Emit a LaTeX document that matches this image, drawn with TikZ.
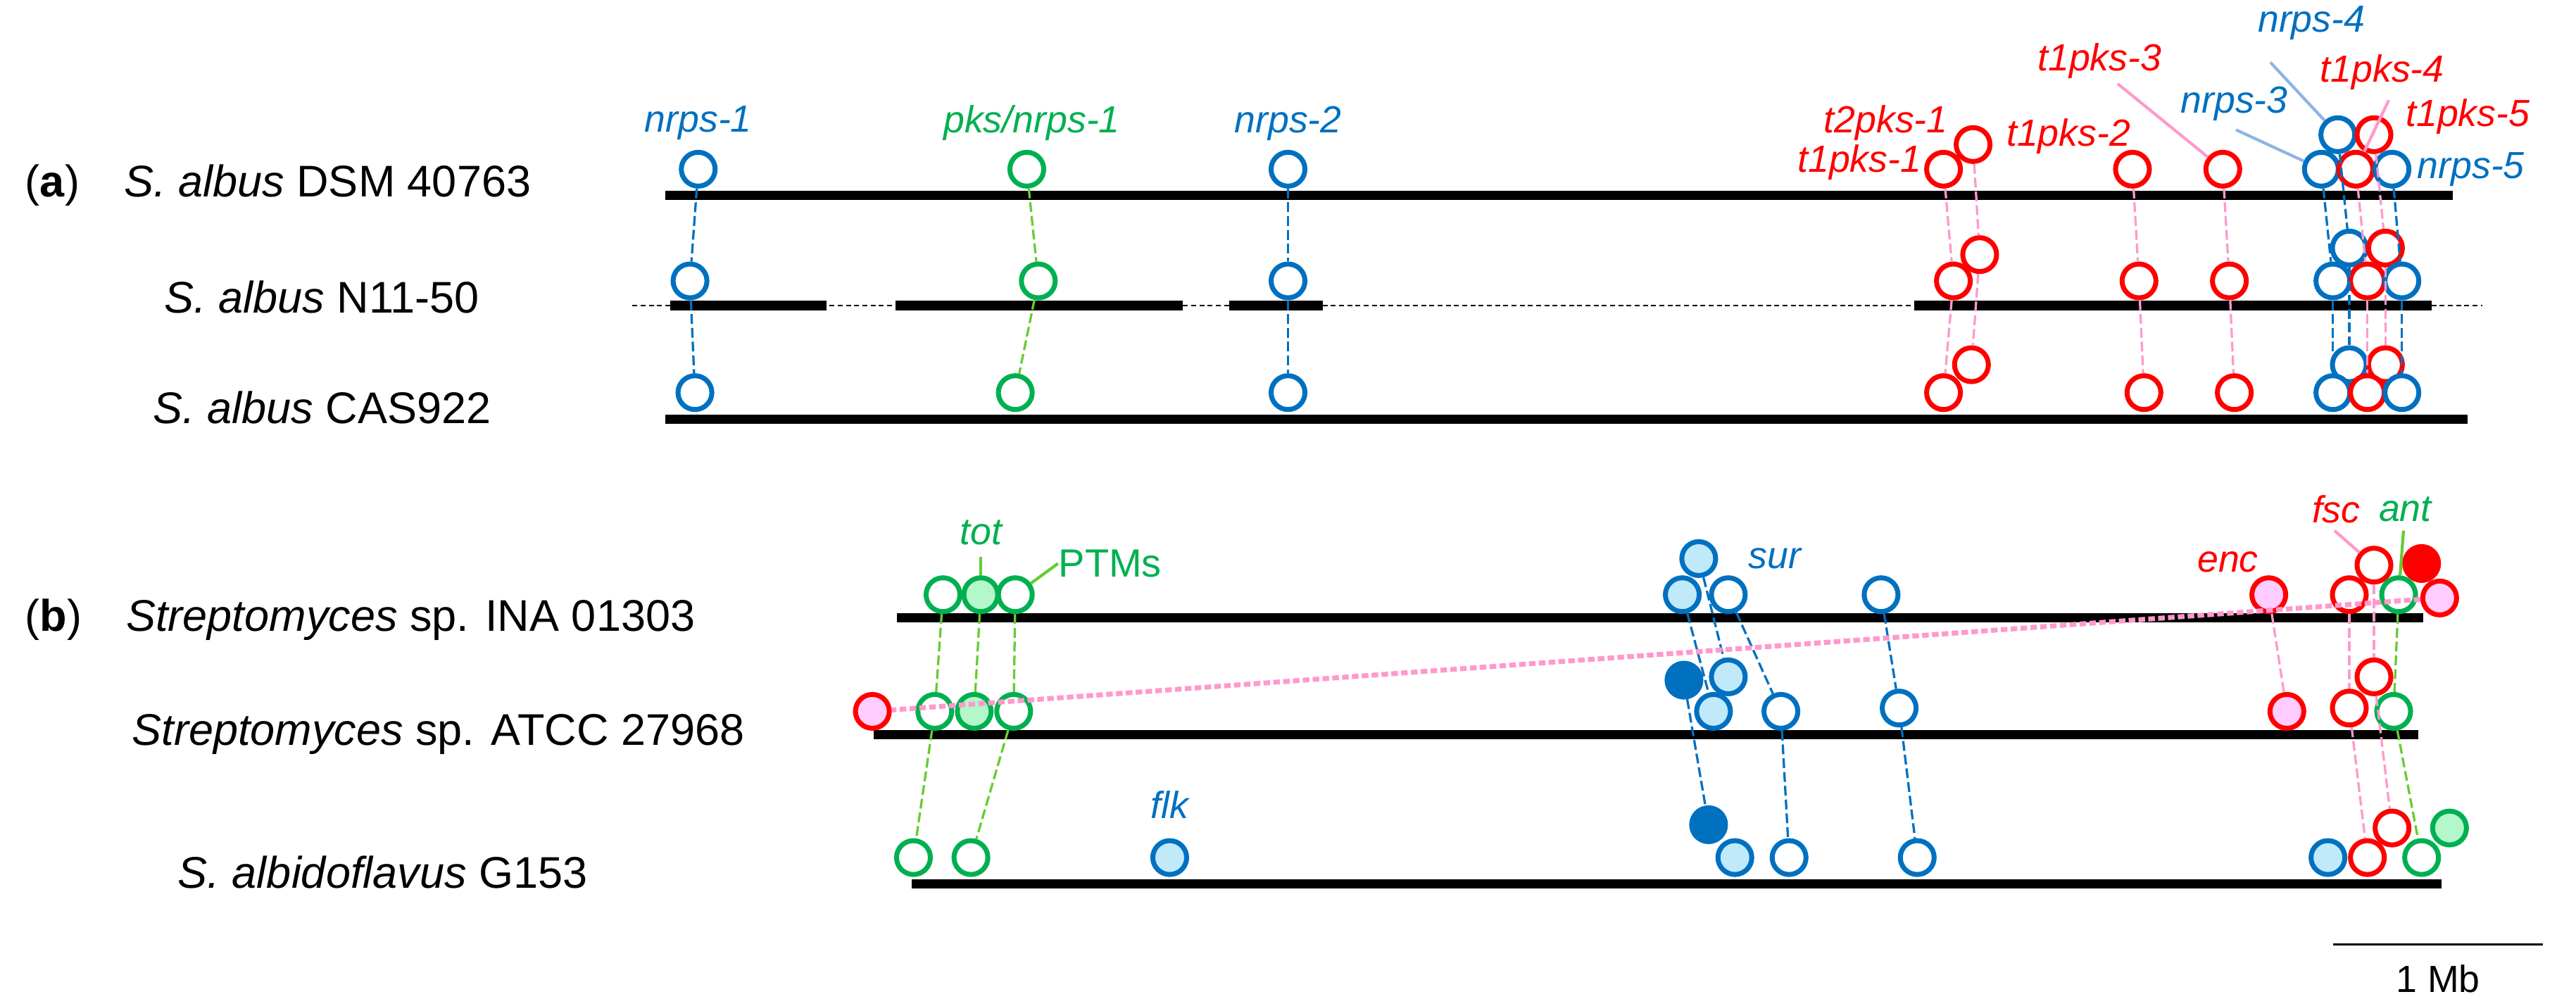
\documentclass[tikz,border=0pt]{standalone}
\usepackage{fontspec}
\setmainfont{Liberation Sans}
\begin{document}
\definecolor{cb}{HTML}{0070C0}
\definecolor{cr}{HTML}{FF0000}
\definecolor{cg}{HTML}{00B050}
\definecolor{lblue}{HTML}{C0E9FA}
\definecolor{lgreen}{HTML}{B3F7CA}
\definecolor{lpink}{HTML}{FFCCFF}
\definecolor{pline}{HTML}{FF99CC}
\definecolor{gline}{HTML}{66CC33}
\definecolor{bline}{HTML}{8EB4E3}
\begin{tikzpicture}[x=0.5pt,y=-0.5pt,
  g/.style={circle,inner sep=0,minimum size=10.3pt,line width=1.5pt,draw=#1,fill=white},
  B/.style={g=cb}, R/.style={g=cr}, G/.style={g=cg},
  LB/.style={g=cb,fill=lblue}, DB/.style={g=cb,fill=cb},
  PK/.style={g=cr,fill=lpink}, RF/.style={g=cr,fill=cr}, LG/.style={g=cg,fill=lgreen},
  chr/.style={line width=2.8pt},
  lk/.style={dash pattern=on 3pt off 1.2pt,line width=0.7pt},
  bl/.style={lk,cb}, rl/.style={lk,pline}, gl/.style={lk,gline},
  lead/.style={line width=0.9pt},
  lab/.style={font=\fontsize{11.5}{11.5}\selectfont\itshape,inner sep=0},
  nm/.style={font=\fontsize{13.5}{13.5}\selectfont,inner sep=0}]
\useasboundingbox (0,0) rectangle (1568,608);
% chromosomes
\draw[chr] (405,119) -- (1493,119);
\draw[line width=0.6pt,dash pattern=on 1.5pt off 1pt] (385,186) -- (1511,186);
\draw[chr] (408,186) -- (503,186) (545,186) -- (720,186) (748,186) -- (805,186) (1165,186) -- (1480,186);
\draw[chr] (405,255) -- (1502,255);
\draw[chr] (546,376) -- (1475,376);
\draw[chr] (532,447) -- (1472,447);
\draw[chr] (555,538) -- (1486,538);
% names
\node[nm,anchor=west] (na) at (15,113) {(\textbf{a})\quad\textit{S. albus} DSM 40763};
\node[nm] (nb) at (196,181) {\textit{S. albus} N11-50};
\node[nm] (nc) at (196,248) {\textit{S. albus} CAS922};
\node[nm,anchor=west] (nd) at (15,377) {(\textbf{b})\quad\textit{Streptomyces} sp. INA 01303};
\node[nm,anchor=west] (ne) at (80,447) {\textit{Streptomyces} sp. ATCC 27968};
\node[nm,anchor=west] (nf) at (108,531) {\textit{S. albidoflavus} G153};
% panel a genes
\foreach \r/\y/\yu/\xa/\xb/\xc/\xd/\xf/\xg/\xh/\xi/\xj/\xk/\xl in
  {1/103/82/425/625/784/1183/1298/1353/1413/1434/1456/1423/1445,
   2/171/151/420/632/784/1189/1302/1357/1420/1441/1462/1430/1452,
   3/239/222/423/618/784/1183/1305/1360/1420/1441/1462/1430/1452}{
  \node[B] (a\r n1) at (\xa,\y) {};
  \node[G] (a\r p) at (\xb,\y) {};
  \node[B] (a\r n2) at (\xc,\y) {};
  \node[R] (a\r t1) at (\xd,\y) {};
  \node[R] (a\r k2) at (\xf,\y) {};
  \node[R] (a\r k3) at (\xg,\y) {};
  \node[B] (a\r n4) at (\xk,\yu) {};
  \node[R] (a\r k5) at (\xl,\yu) {};
  \node[B] (a\r n3) at (\xh,\y) {};
  \node[R] (a\r k4) at (\xi,\y) {};
  \node[B] (a\r n5) at (\xj,\y) {};
}
\node[R] (a1t2) at (1201,88) {};
\node[R] (a2t2) at (1205,155) {};
\node[R] (a3t2) at (1200,222) {};
\foreach \p/\q in {1/2,2/3}{
  \draw[bl] (a\p n1) -- (a\q n1); \draw[gl] (a\p p) -- (a\q p); \draw[bl] (a\p n2) -- (a\q n2);
  \draw[rl] (a\p t1) -- (a\q t1); \draw[rl] (a\p t2) -- (a\q t2);
  \draw[rl] (a\p k2) -- (a\q k2); \draw[rl] (a\p k3) -- (a\q k3);
  \draw[bl] (a\p n3) -- (a\q n3); \draw[bl] (a\p n4) -- (a\q n4); \draw[bl] (a\p n5) -- (a\q n5);
  \draw[rl] (a\p k4) -- (a\q k4); \draw[rl] (a\p k5) -- (a\q k5);
}
% panel a labels
\node[lab,cb] (l1) at (425,75) {nrps-1};
\node[lab,cg] (l2) at (628,75) {pks/nrps-1};
\node[lab,cb] (l3) at (784,75) {nrps-2};
\node[lab,cr,anchor=east] (l4) at (1186,75) {t2pks-1};
\node[lab,cr,anchor=east] (l5) at (1170,99) {t1pks-1};
\node[lab,cr,anchor=west] (l6) at (1221,83) {t1pks-2};
\node[lab,cr] (l7) at (1278,37) {t1pks-3};
\node[lab,cb] (l8) at (1407,14) {nrps-4};
\node[lab,cb] (l9) at (1360,63) {nrps-3};
\node[lab,cr] (l10) at (1450,44) {t1pks-4};
\node[lab,cr,anchor=west] (l11) at (1464,71) {t1pks-5};
\node[lab,cb,anchor=west] (l12) at (1471,103) {nrps-5};
\coordinate (c7) at (1289,51); \coordinate (c8) at (1382,38);
\coordinate (c9) at (1361,79); \coordinate (c10) at (1454,61);
\draw[lead,pline] (c7) -- (a1k3);
\draw[lead,bline] (c8) -- (a1n4);
\draw[lead,bline] (c9) -- (a1n3);
\draw[lead,pline] (c10) -- (a1k4);
% panel b genes
\node[G] (i1) at (574,362) {}; \node[LG] (i2) at (597,362) {}; \node[G] (i3) at (618,362) {};
\node[LB] (isu) at (1034,340) {}; \node[LB] (il) at (1024,362) {}; \node[B] (iw) at (1052,362) {};
\node[B] (iw2) at (1145,362) {}; \node[PK] (ienc) at (1381,362) {};
\node[R] (ir) at (1430,362) {}; \node[R] (ifsc) at (1445,344) {}; \node[RF] (irf) at (1474,343) {};
\node[G] (iant) at (1460,362) {}; \node[PK] (ipk) at (1485,364) {};
\node[PK] (c0) at (531,433) {}; \node[G] (c1) at (569,433) {}; \node[LG] (c2) at (593,433) {}; \node[G] (c3) at (617,433) {};
\node[DB] (cdb) at (1025,414) {}; \node[LB] (clb2) at (1052,412) {}; \node[LB] (clb) at (1043,433) {};
\node[B] (cw) at (1084,433) {}; \node[B] (cw2) at (1156,431) {}; \node[PK] (cpk) at (1392,433) {};
\node[R] (cr2) at (1445,412) {}; \node[R] (crr) at (1430,431) {}; \node[G] (cg1) at (1457,433) {};
\node[G] (g1) at (556,522) {}; \node[G] (g2) at (591,522) {}; \node[LB] (gflk) at (712,522) {};
\node[DB] (gdb) at (1040,502) {}; \node[LB] (glb) at (1056,522) {}; \node[B] (gw) at (1089,522) {};
\node[B] (gw2) at (1167,522) {}; \node[LB] (glb2) at (1417,522) {}; \node[R] (gr2) at (1456,504) {};
\node[R] (gr) at (1441,522) {}; \node[LG] (glg) at (1491,504) {}; \node[G] (gg) at (1474,522) {};
% panel b links
\draw[gl] (i1) -- (c1); \draw[gl] (i2) -- (c2); \draw[gl] (i3) -- (c3);
\draw[bl] (il) -- (clb); \draw[bl] (isu) -- (clb2); \draw[bl] (iw) -- (cw); \draw[bl] (iw2) -- (cw2);
\draw[rl] (ienc) -- (cpk); \draw[rl] (ir) -- (crr); \draw[rl] (ifsc) -- (cr2); \draw[gl] (iant) -- (cg1);
\draw[pline,line width=1.5pt,dash pattern=on 2pt off 1pt] (ipk) -- (c0);
\draw[gl] (c1) -- (g1); \draw[gl] (c3) -- (g2); \draw[bl] (cdb) -- (gdb);
\draw[bl] (cw) -- (gw); \draw[bl] (cw2) -- (gw2);
\draw[rl] (crr) -- (gr); \draw[rl] (cr2) -- (gr2); \draw[gl] (cg1) -- (gg);
% panel b labels
\node[lab,cg] (ltot) at (597,324) {tot};
\node[lab,cg,font=\fontsize{12}{12}\selectfont,anchor=west] (lptm) at (644,343) {PTMs};
\node[lab,cb,anchor=west] (lsur) at (1064,340) {sur};
\node[lab,cr,anchor=east] (lenc) at (1375,342) {enc};
\node[lab,cr] (lfsc) at (1422,310) {fsc};
\node[lab,cg] (lant) at (1464,310) {ant};
\node[lab,cb] (lflk) at (712,490) {flk};
\coordinate (ct) at (597,339); \coordinate (cp) at (644,343);
\coordinate (cf) at (1421,323); \coordinate (ca) at (1463,323);
\draw[lead,gline] (ct) -- (i2); \draw[lead,gline] (cp) -- (i3);
\draw[lead,pline] (cf) -- (ifsc); \draw[lead,gline] (ca) -- (iant);
% scale bar
\coordinate (s1) at (1420,575); \coordinate (s2) at (1548,575);
\draw[line width=0.6pt] (s1) -- (s2);
\node[nm,font=\fontsize{11.5}{11.5}\selectfont] (sb) at (1484,596) {1 Mb};
\end{tikzpicture}
\end{document}
